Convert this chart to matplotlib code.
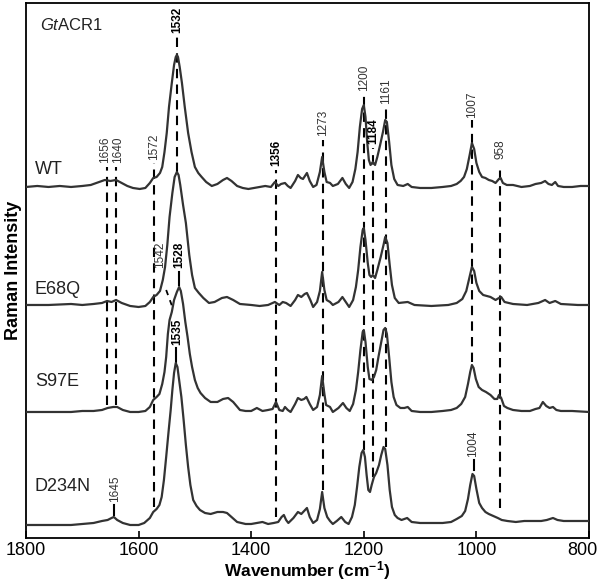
import matplotlib
matplotlib.use("Agg")
import matplotlib.pyplot as plt
import matplotlib.transforms as mtransforms
import numpy as np

plt.rcParams['font.family'] = ['Liberation Sans', 'DejaVu Sans']
plt.rcParams['mathtext.fontset'] = 'custom'
plt.rcParams['mathtext.rm'] = 'Liberation Sans'
plt.rcParams['mathtext.it'] = 'Liberation Sans:italic'
plt.rcParams['mathtext.bf'] = 'Liberation Sans:bold'

# spectra: wavenumber (cm-1) and height above each trace's baseline
wt_wn = [1800, 1780, 1760, 1740, 1720, 1700, 1685, 1670, 1660, 1650, 1640, 1630, 1620, 1610, 1598, 1588,
         1580, 1574, 1568, 1562, 1558, 1554, 1550, 1546, 1541, 1537, 1534, 1532, 1530, 1527, 1523, 1518,
         1512, 1506, 1500, 1494, 1488, 1480, 1470, 1460, 1450, 1443, 1435, 1425, 1415, 1405, 1395, 1385,
         1375, 1365, 1358, 1352, 1347, 1340, 1335, 1330, 1322, 1317, 1312, 1308, 1301, 1296, 1290, 1284,
         1278, 1274, 1270, 1266, 1260, 1255, 1246, 1238, 1232, 1226, 1220, 1215, 1211, 1207, 1203, 1200,
         1197, 1194, 1191, 1188, 1184, 1180, 1176, 1171, 1166, 1162, 1159, 1155, 1151, 1146, 1140, 1130,
         1122, 1115, 1100, 1080, 1060, 1045, 1035, 1028, 1022, 1017, 1012, 1008, 1004, 1000, 995, 990,
         984, 978, 972, 966, 960, 957, 953, 946, 935, 920, 905, 895, 885, 878, 872, 866, 860, 855, 845,
         830, 815, 800]
wt_int = [0, 1, 0, 1, 0, 1, 2, 5, 7, 6, 7, 4, 1, -1, -2, -1,
          4, 9, 10, 14, 20, 35, 54, 80, 104, 122, 130, 132, 130, 120, 104, 80,
          54, 35, 20, 14, 10, 5, 1, 3, 7, 9, 6, 1, -1, -2, -1, 0,
          1, 0, 5, 1, 3, 4, 1, -1, 6, 12, 9, 8, 14, 6, 0, 2,
          15, 30, 15, 5, 4, 1, 3, 9, 3, -1, 5, 18, 35, 60, 78, 82,
          70, 45, 27, 22, 25, 22, 30, 42, 55, 67, 65, 45, 22, 8, 2, 1,
          3, 0, -1, -1, 0, 1, 3, 6, 10, 18, 32, 44, 38, 24, 15, 10,
          9, 7, 6, 4, 8, 9, 4, 2, 2, 0, 1, 3, 4, 6, 3, 2, 5, 1, 0,
          0, 1, 1]

e68q_wn = [1800, 1760, 1720, 1700, 1680, 1665, 1656, 1648, 1640, 1630, 1615, 1600, 1588, 1580, 1574, 1568,
           1562, 1557, 1553, 1549, 1545, 1540, 1536, 1532, 1529, 1526, 1521, 1516, 1510, 1505, 1500, 1493,
           1485, 1475, 1465, 1452, 1443, 1432, 1420, 1400, 1385, 1370, 1358, 1350, 1344, 1338, 1330, 1322,
           1317, 1311, 1305, 1301, 1295, 1290, 1283, 1278, 1274, 1270, 1266, 1260, 1255, 1245, 1238, 1232,
           1226, 1219, 1214, 1210, 1206, 1202, 1200, 1197, 1193, 1190, 1187, 1184, 1180, 1176, 1170, 1165,
           1162, 1158, 1154, 1150, 1145, 1138, 1122, 1110, 1080, 1050, 1035, 1025, 1018, 1013, 1008, 1004,
           1000, 995, 988, 975, 966, 960, 956, 950, 935, 910, 890, 878, 870, 860, 850, 820, 800]
e68q_int = [0, 0, 1, 0, 1, 2, 4, 3, 5, 2, -1, -2, -1, 3, 8, 10,
            14, 25, 38, 60, 88, 112, 128, 133, 130, 120, 100, 82, 50, 30, 17, 12,
            7, 2, 3, 7, 8, 5, 1, 0, -1, 0, 3, 0, 3, 2, -1, 5,
            10, 8, 11, 12, 5, -2, 3, 14, 33, 15, 5, 3, 0, 3, 8, 3,
            -2, 5, 18, 35, 58, 75, 77, 65, 42, 30, 28, 30, 27, 35, 48, 60,
            68, 62, 40, 20, 7, 2, 3, 0, -1, 0, 2, 6, 14, 26, 38, 34,
            22, 14, 10, 8, 5, 7, 8, 3, 1, 0, 2, 5, 2, 4, 1, 0, 0]

s97e_wn = [1800, 1760, 1720, 1700, 1680, 1665, 1655, 1645, 1638, 1628, 1615, 1600, 1588, 1580, 1574, 1568,
           1563, 1558, 1554, 1551, 1548, 1545, 1541, 1537, 1532, 1528, 1525, 1521, 1517, 1513, 1509, 1505,
           1500, 1495, 1490, 1482, 1472, 1460, 1450, 1441, 1432, 1420, 1410, 1400, 1390, 1380, 1370, 1362,
           1356, 1350, 1344, 1340, 1335, 1330, 1322, 1317, 1311, 1306, 1302, 1296, 1290, 1283, 1278, 1274,
           1270, 1267, 1260, 1255, 1245, 1237, 1231, 1225, 1219, 1214, 1210, 1206, 1202, 1200, 1197, 1193,
           1190, 1186, 1182, 1178, 1174, 1169, 1165, 1162, 1159, 1155, 1151, 1147, 1142, 1135, 1128, 1122,
           1115, 1100, 1080, 1060, 1045, 1035, 1027, 1020, 1015, 1011, 1008, 1005, 1001, 996, 990, 983,
           975, 968, 963, 960, 956, 951, 945, 935, 920, 905, 895, 888, 882, 876, 870, 864, 858, 850, 830, 800]
s97e_int = [0, 0, 0, 1, 1, 2, 4, 5, 5, 2, 0, 0, 1, 5, 12, 15,
            18, 28, 40, 55, 78, 92, 100, 112, 120, 125, 121, 108, 90, 75, 58, 45,
            32, 24, 19, 14, 10, 10, 13, 14, 10, 2, 1, 1, 4, 1, 2, 3,
            10, 2, 1, 5, 2, 0, 8, 14, 12, 13, 15, 8, 2, 5, 17, 36,
            18, 7, 5, 0, 4, 9, 4, 1, 8, 22, 40, 62, 80, 82, 70, 45,
            33, 32, 35, 42, 55, 70, 82, 84, 78, 55, 30, 15, 7, 4, 4, 5,
            1, 0, 0, 1, 2, 4, 8, 15, 28, 40, 47, 44, 33, 25, 22, 20,
            17, 13, 13, 17, 14, 6, 4, 2, 1, 1, 3, 4, 10, 6, 4, 5, 2, 1, 1, 0]

d234n_wn = [1800, 1760, 1720, 1700, 1680, 1665, 1655, 1648, 1644, 1638, 1628, 1615, 1600, 1590, 1580, 1574,
            1568, 1563, 1559, 1555, 1551, 1547, 1543, 1540, 1537, 1534, 1531, 1528, 1524, 1520, 1516, 1512,
            1508, 1503, 1497, 1491, 1482, 1472, 1460, 1450, 1443, 1433, 1425, 1410, 1400, 1390, 1380, 1370,
            1360, 1352, 1346, 1342, 1338, 1334, 1325, 1317, 1311, 1306, 1301, 1296, 1290, 1283, 1278, 1274,
            1270, 1265, 1260, 1255, 1248, 1240, 1233, 1227, 1221, 1216, 1212, 1208, 1204, 1201, 1198, 1195,
            1192, 1189, 1186, 1182, 1178, 1173, 1169, 1165, 1162, 1158, 1154, 1150, 1145, 1140, 1133, 1123,
            1115, 1100, 1080, 1060, 1045, 1035, 1026, 1020, 1015, 1011, 1007, 1004, 1000, 995, 990, 984,
            978, 970, 962, 955, 945, 930, 915, 900, 885, 875, 864, 856, 845, 825, 800]
d234n_int = [0, 0, 0, 1, 2, 4, 5, 7, 8, 5, 2, 0, 0, 2, 7, 13,
             16, 20, 28, 45, 68, 92, 115, 135, 152, 162, 158, 145, 128, 105, 80, 58,
             40, 25, 19, 15, 12, 11, 13, 13, 12, 7, 3, 1, 1, 2, 3, 1,
             2, 3, 8, 10, 5, 2, 7, 13, 11, 14, 17, 8, 2, 5, 16, 33,
             17, 8, 4, 1, 4, 8, 3, 1, 8, 20, 38, 58, 72, 75, 68, 50,
             35, 33, 40, 48, 52, 60, 70, 78, 76, 60, 35, 18, 10, 7, 5, 7,
             3, 2, 2, 2, 3, 6, 9, 14, 26, 40, 51, 49, 36, 22, 17, 13,
             11, 9, 7, 5, 4, 3, 4, 4, 4, 5, 7, 5, 4, 4, 4]

names = ['WT', 'E68Q', 'S97E', 'D234N']
spectra = [(wt_wn, wt_int), (e68q_wn, e68q_int), (s97e_wn, s97e_int), (d234n_wn, d234n_int)]
offsets = [351, 233, 126, 13]
name_y = [360, 240, 148, 43]

# dashed marker lines: wavenumber, label, label x, label bottom, line top, line bottom, bold
marks = [
    (1656, '1656', 1660, 375, 371, 133, False),
    (1640, '1640', 1637, 375, 371, 133, False),
    (1572, '1572', 1572, 378, 375, 31, False),
    (1532, '1532', 1532, 505, 501, 366, True),
    (1356, '1356', 1356, 372, 368, 21, True),
    (1273, '1273', 1273, 402, 398, 48, False),
    (1200, '1200', 1200, 447, 443, 88, False),
    (1184, '1184', 1184, 394, 390, 61, True),
    (1161, '1161', 1161, 434, 430, 91, False),
    (1007, '1007', 1007, 420, 418, 176, False),
    (958, '958', 958, 379, 373, 30, False),
]
# short solid ticks: wavenumber, label, label x, label bottom, tick top, tick bottom, bold
ticks = [
    (1528, '1528', 1528, 270, 266, 253, True),
    (1533, '1535', 1531, 193, 190, 176, True),
    (1643, '1645', 1642, 36, 33, 23, False),
    (1005, '1004', 1006, 81, 78, 68, False),
]

fig = plt.figure(figsize=(6, 5.83), dpi=100)
ax = fig.add_axes([0.0433, 0.0772, 0.9384, 0.9177])

for (wn, inten), off in zip(spectra, offsets):
    ax.plot(wn, np.array(inten) + off, color='#333333', lw=1.6, zorder=3)

for wn, lab, lx, ly, y0, y1, bold in marks:
    ax.plot([wn, wn], [y1, y0], color='black', lw=1.5, dashes=(4.5, 3), zorder=2)
    ax.text(lx, ly, lab, rotation=90, ha='center', va='bottom', fontsize=8.5,
            color='black' if bold else '#333333', fontweight='bold' if bold else 'normal')

for wn, lab, lx, ly, y0, y1, bold in ticks:
    ax.plot([wn, wn], [y1, y0], color='black', lw=1.5, zorder=2)
    ax.text(lx, ly, lab, rotation=90, ha='center', va='bottom', fontsize=8.5,
            color='black' if bold else '#333333', fontweight='bold' if bold else 'normal')

# slanted marker for the E68Q shoulder
ax.plot([1551, 1540], [248, 231], color='black', lw=1.3, dashes=(3, 3), zorder=2)
ax.text(1561, 270, '1542', rotation=90, ha='center', va='bottom', fontsize=8.5, color='#333333')

for name, y in zip(names, name_y):
    ax.text(1784, y, name, fontsize=13, ha='left', va='bottom', color='#222222')
ax.text(1775, 505, r'$\mathit{Gt}$ACR1', fontsize=12, ha='left', va='bottom', color='#222222')

ax.set_xlim(1800, 800)
ax.set_ylim(0, 535)
ax.set_xticks([1800, 1600, 1400, 1200, 1000, 800])
ax.set_yticks([])
ax.tick_params(axis='x', direction='in', length=5, width=1.2, labelsize=13, pad=3)
for s in ax.spines.values():
    s.set_linewidth(1.3)
ax.set_xlabel(r'Wavenumber (cm$^{\mathbf{-1}}$)', fontsize=12.5, fontweight='bold', labelpad=0)
ax.set_ylabel('Raman Intensity', fontsize=13, fontweight='bold', labelpad=3)

# nudge the last tick label so it stays inside the figure
last = ax.xaxis.get_major_ticks()[-1].label1
last.set_transform(last.get_transform() + mtransforms.ScaledTranslation(-5 / 72, 0, fig.dpi_scale_trans))

fig.savefig('out.png', dpi=100)
